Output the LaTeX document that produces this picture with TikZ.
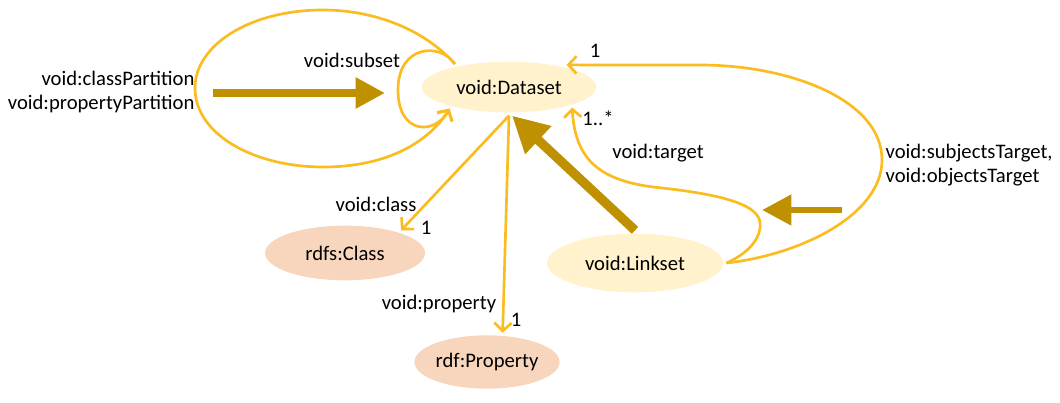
\documentclass[tikz,border=0pt]{standalone}
\usepackage{fontspec}
\setmainfont{Carlito}
\usetikzlibrary{arrows.meta,shapes.geometric,calc}
\definecolor{lineY}{RGB}{250,188,30}
\definecolor{goldA}{RGB}{191,144,0}
\definecolor{dsfill}{RGB}{255,242,204}
\definecolor{clfill}{RGB}{248,214,190}
\begin{document}
\begin{tikzpicture}[x=0.75pt,y=-0.75pt,
  every node/.style={font=\fontsize{15.5}{18}\selectfont, text=black},
  ent/.style={ellipse, inner sep=0pt, outer sep=2.5pt},
  dsent/.style={ent, fill=dsfill},
  clent/.style={ent, fill=clfill},
  yel/.style={draw=lineY, line width=2pt, -{Straight Barb[length=6pt,width=13pt,line width=2pt]}},
  yelplain/.style={draw=lineY, line width=2pt},
  fat/.style={draw=goldA, fill=goldA, line width=5.5pt, -{Triangle[length=22pt,width=22pt]}},
  lbl/.style={inner sep=1pt}
]
\useasboundingbox (0,0) rectangle (1060,403);

\node[dsent, minimum width=131pt, minimum height=38pt] (ds) at (509,87) {void:Dataset};
\node[clent, minimum width=120pt, minimum height=41pt] (cl) at (345,253) {rdfs:Class};
\node[clent, minimum width=105pt, minimum height=40pt] (pr) at (487,362) {rdf:Property};
\node[dsent, minimum width=132pt, minimum height=44pt] (ls) at (635,263) {void:Linkset};

% small loop void:subset
\draw[yel] (ds.157) .. controls (440,42) and (398,45) .. (398,90)
  .. controls (398,135) and (435,135) .. (ds.200);
% big loop partitions
\draw[yel] (ds.157) .. controls (425,30) and (375,10) .. (323,10)
  .. controls (250,10) and (195,45) .. (195,88)
  .. controls (195,135) and (255,167) .. (323,167)
  .. controls (390,167) and (430,140) .. (ds.200);

% class / property
\draw[yel] (ds.south) -- (cl.22);
\draw[yel] (ds.south) -- (pr.62);

% target
\draw[yel] (ls.east) .. controls (745,255) and (762,240) .. (760,222)
  .. controls (757,200) and (700,192) .. (653,187)
  .. controls (600,180) and (575,160) .. (ds.342);
% subjectsTarget / objectsTarget
\draw[yel] (ls.east) .. controls (800,255) and (882,215) .. (882,160)
  .. controls (882,100) and (790,65) .. (700,65)
  .. controls (640,65) and (600,65) .. (ds.21);

% thick arrows
\coordinate (f1s) at (213,93);
\coordinate (f1e) at (385,93);
\draw[fat] (f1s) -- (f1e);
\draw[fat, line width=7pt, -{Triangle[length=27pt,width=27pt]}] (ls.north) -- (ds.-84);
\coordinate (f3s) at (842,210);
\coordinate (f3e) at (762,210);
\draw[fat, line width=5pt] (f3s) -- (f3e);

% labels
\node[lbl] (lsub) at (352,60) {void:subset};
\node[lbl, anchor=east, align=right] (lpart) at (196,92) {void:classPartition\\void:propertyPartition};
\node[lbl] (lcls) at (376,204) {void:class};
\node[lbl] (lcls1) at (426,228) {1};
\node[lbl] (lprop) at (439,304) {void:property};
\node[lbl] (lprop1) at (516,320) {1};
\node[lbl] (ltgt) at (658,153) {void:target};
\node[lbl] (ltgt1) at (598,118) {1..*};
\node[lbl] (lst1) at (595,51) {1};
\node[lbl, anchor=west, align=left] (lst) at (884,165) {void:subjectsTarget,\\void:objectsTarget};
\end{tikzpicture}
\end{document}
